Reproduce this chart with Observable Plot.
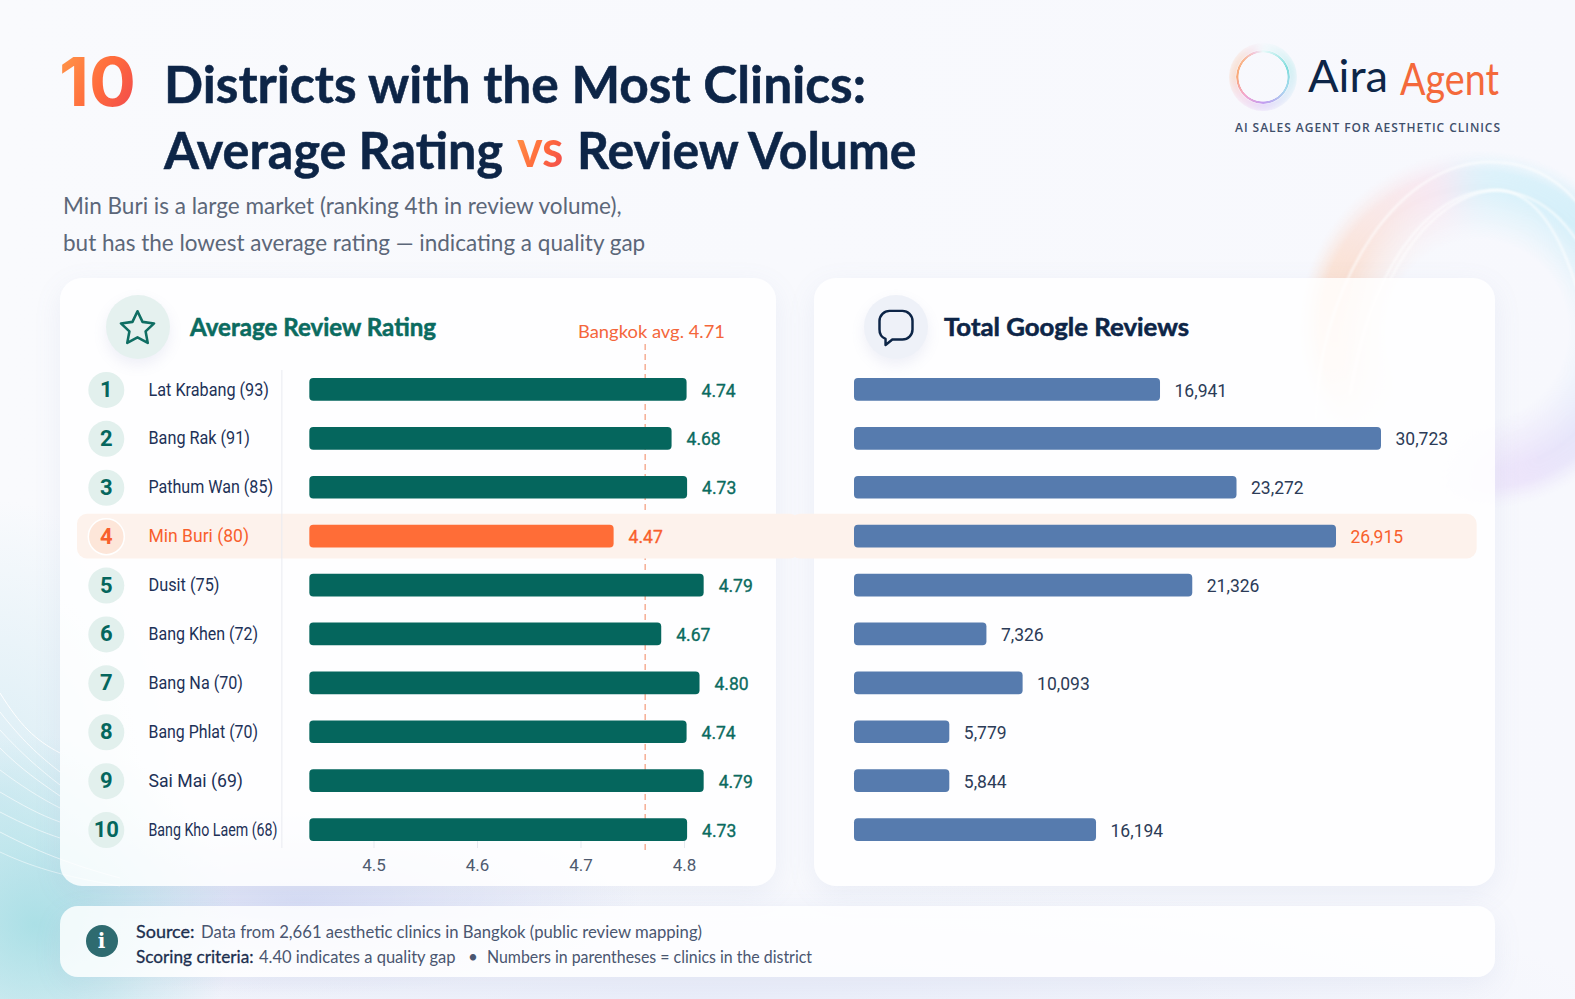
<!DOCTYPE html>
<html lang="en">
<head>
<meta charset="utf-8">
<title>10 Districts with the Most Clinics</title>
<script src="https://cdn.jsdelivr.net/npm/d3@7"></script>
<script src="https://cdn.jsdelivr.net/npm/@observablehq/plot@0.6"></script>
<style>
  html, body { margin: 0; padding: 0; }
  body { width: 1575px; height: 999px; overflow: hidden; position: relative; background: #f9fafd; font-family: Lato, "Noto Sans", sans-serif; }
  #bg { position: absolute; inset: 0; overflow: hidden;
    background:
      radial-gradient(200px 190px at 35px 925px, rgba(165,222,228,.9), rgba(165,222,228,0) 100%),
      radial-gradient(340px 95px at 300px 900px, rgba(205,212,243,.7), rgba(205,212,243,0) 100%),
      radial-gradient(190px 300px at 0px 800px, rgba(200,230,240,.65), rgba(200,230,240,0) 100%),
      radial-gradient(900px 120px at 700px 1000px, rgba(226,231,248,.6), rgba(226,231,248,0) 100%),
      linear-gradient(90deg, #f9fafd, #f7f8fd);
  }
  .ring { position: absolute; left: 1298px; top: 150px; width: 360px; height: 360px; border-radius: 50%;
    background: conic-gradient(from 0deg, #c2ecf8 0deg, #b0e6f6 50deg, #c2e8f7 100deg, #d6d4f8 135deg, #e2cff8 165deg, rgba(255,255,255,0) 195deg, rgba(255,255,255,0) 230deg, #ffd6bd 255deg, #ffc8a2 285deg, #fbd8d2 320deg, #f7d8ea 345deg, #c2ecf8 360deg);
    -webkit-mask: radial-gradient(closest-side, transparent 50%, #000 78%, #000 88%, transparent 100%);
    mask: radial-gradient(closest-side, transparent 50%, #000 78%, #000 88%, transparent 100%);
    filter: blur(14px); opacity: .5; }
  #bgsvg .soft { filter: blur(.8px); }
  .card { position: absolute; background: rgba(255,255,255,.82); border-radius: 22px; box-shadow: 0 8px 28px rgba(120,135,190,.10); }
  .t { position: absolute; white-space: pre; transform-origin: left center; line-height: 1; }
  .grad { background: linear-gradient(120deg, #ff9a4a 0%, #ff6a3c 55%, #ef4750 100%); -webkit-background-clip: text; background-clip: text; color: transparent; }
  .chart { position: absolute; top: 278px; height: 608px; }
  .chart svg { display: block; }
  .icon { position: absolute; border-radius: 50%; display: flex; align-items: center; justify-content: center; box-shadow: 0 6px 14px rgba(120,135,190,.12); }
  .strong { -webkit-text-stroke: .55px currentColor; }
  .semi { -webkit-text-stroke: .3px currentColor; }
  .logoring { position: absolute; left: 1236px; top: 50px; width: 54px; height: 54px; border-radius: 50%;
    background: conic-gradient(from 0deg, #eafafa 0deg, #7fdcdc 70deg, #a9d8ee 120deg, #c39cf0 180deg, #f2a8d0 225deg, #f9a877 270deg, #f9b68e 310deg, #f3c8dc 340deg, #eafafa 360deg);
    -webkit-mask: radial-gradient(closest-side, transparent 90%, #000 92%, #000 98%, transparent 100%);
    mask: radial-gradient(closest-side, transparent 90%, #000 92%, #000 98%, transparent 100%); }
  .logoglow { position: absolute; left: 1229px; top: 43px; width: 68px; height: 68px; border-radius: 50%; filter: blur(3px); opacity: .3;
    background: conic-gradient(from 0deg, #eafafa 0deg, #7fdcdc 70deg, #a9d8ee 120deg, #c39cf0 180deg, #f2a8d0 225deg, #f9a877 270deg, #f9b68e 310deg, #f3c8dc 340deg, #eafafa 360deg);
    -webkit-mask: radial-gradient(closest-side, transparent 74%, #000 82%, #000 100%);
    mask: radial-gradient(closest-side, transparent 74%, #000 82%, #000 100%); }
</style>
</head>
<body>
<div id="bg">
  <div class="ring"></div>
  <svg id="bgsvg" width="1575" height="999" style="position:absolute;left:0;top:0"></svg>
</div>

<div class="t grad" data-w="77" style="left:58.7px;top:81px;font-size:68px;font-weight:700;font-family:Inter">10</div>
<div class="t strong" data-w="702" style="left:164px;top:82.5px;font-size:52px;font-weight:700;color:#0d2547">Districts with the Most Clinics:</div>
<div class="t strong" data-w="339" style="left:164px;top:149px;font-size:52px;font-weight:700;color:#0d2547">Average Rating</div>
<div class="t grad" data-w="46.5" style="left:517px;top:149px;font-size:52px;font-weight:700;padding-bottom:4px">vs</div>
<div class="t strong" data-w="339.5" style="left:576.5px;top:149px;font-size:52px;font-weight:700;color:#0d2547">Review Volume</div>
<div class="t" data-w="558.6" style="left:62.8px;top:205px;font-size:24px;color:#5c6779">Min Buri is a large market (ranking 4th in review volume),</div>
<div class="t" data-w="582.2" style="left:62.8px;top:242px;font-size:24px;color:#5c6779">but has the lowest average rating — indicating a quality gap</div>

<div class="logoglow"></div><div class="logoring"></div>
<div class="t" data-w="80" style="left:1308px;top:75px;font-size:44px;font-weight:400;color:#0d2547">Aira</div>
<div class="t" data-w="99" style="left:1400px;top:78px;font-size:44px;font-weight:400;color:#f4693b">Agent</div>
<div class="t" data-w="266" style="left:1235px;top:127.5px;font-size:12px;font-weight:600;letter-spacing:.08em;color:#3f4f6b;font-family:'Open Sans'">AI SALES AGENT FOR AESTHETIC CLINICS</div>

<div class="card" style="left:60px;top:278px;width:716px;height:608px"></div>
<div class="card" style="left:814px;top:278px;width:681px;height:608px"></div>
<div class="card" style="left:60px;top:906px;width:1435px;height:71px;border-radius:18px"></div>

<div class="icon" style="left:105.5px;top:295px;width:64px;height:64px;background:#e5f1ef">
  <svg width="41" height="41" viewBox="0 0 24 24" fill="none" stroke="#0f6e63" stroke-width="1.5" stroke-linejoin="round"><path d="M12 2.5l2.95 6.2 6.75.9-4.95 4.7 1.25 6.7L12 17.8l-6 3.2 1.25-6.7L2.3 9.6l6.75-.9z"/></svg>
</div>
<div class="t strong" style="left:190px;top:325.5px;font-size:25px;font-weight:700;color:#0b6b60" data-w="246">Average Review Rating</div>
<div class="t" data-w="147" style="left:577.5px;top:330.5px;font-size:18px;font-weight:400;color:#f4663b">Bangkok avg. 4.71</div>

<div class="icon" style="left:863.5px;top:295px;width:64px;height:64px;background:#eef1f8">
  <svg width="44" height="44" viewBox="0 0 24 24" fill="none" stroke="#0d2547" stroke-width="1.35" stroke-linejoin="round"><path d="M8.5 3.2h7A5.5 5.5 0 0 1 21 8.7v4.6a5.5 5.5 0 0 1-5.5 5.5H10l-3.7 3v-3.3A5.5 5.5 0 0 1 3 13.3V8.7a5.5 5.5 0 0 1 5.5-5.5z"/></svg>
</div>
<div class="t strong" data-w="245" style="left:944px;top:326px;font-size:25px;font-weight:700;color:#0d2547">Total Google Reviews</div>

<div class="icon" style="left:85.5px;top:925px;width:32px;height:32px;background:#2e6b70;box-shadow:none;color:#fff;font:700 20px 'DejaVu Serif'">i</div>
<div class="t semi" data-w="58.5" style="left:135.5px;top:930.5px;font-size:17px;color:#1c2f4f">Source:</div>
<div class="t" data-w="501" style="left:200.5px;top:930.5px;font-size:17px;color:#4a5670">Data from 2,661 aesthetic clinics in Bangkok (public review mapping)</div>
<div class="t semi" data-w="117.5" style="left:135.5px;top:956px;font-size:17px;color:#1c2f4f">Scoring criteria:</div>
<div class="t" data-w="196.5" style="left:258.5px;top:956px;font-size:17px;color:#4a5670">4.40 indicates a quality gap</div>
<div class="t" style="left:468px;top:956px;font-size:17px;color:#4a5670;transform:translateY(-50%)">•</div>
<div class="t" data-w="325" style="left:487px;top:956px;font-size:17px;color:#4a5670">Numbers in parentheses = clinics in the district</div>

<div id="left" class="chart" style="left:60px;width:740px"></div>
<div id="right" class="chart" style="left:780px;width:715px"></div>

<script>
// ---------- chart values ----------
const districts = ["Lat Krabang","Bang Rak","Pathum Wan","Min Buri","Dusit","Bang Khen","Bang Na","Bang Phlat","Sai Mai","Bang Kho Laem"];
const clinics = [93,91,85,80,75,72,70,70,69,68];
const ratingLabels = ["4.74","4.68","4.73","4.47","4.79","4.67","4.80","4.74","4.79","4.73"];
// where each bar's end falls on the picture's own drawn axis
const ratingBarOnAxis = [4.8025,4.788,4.803,4.732,4.819,4.778,4.815,4.8025,4.819,4.803];
const reviewLabels = ["16,941","30,723","23,272","26,915","21,326","7,326","10,093","5,779","5,844","16,194"];
// the length of each bar as drawn in the picture, in review units
const reviewBarLength = [17840,30723,22300,28100,19720,7720,9830,5556,5556,14110];
const ratingTicks = [4.5,4.6,4.7,4.8];
const ratingBase = 4.438;
const avgOnAxis = 4.762;
const highlightDistrict = "Min Buri";

const teal = "#05665d", orange = "#ff6d37", orangeText = "#f8602c", blue = "#567bae", navy = "#1d3157", peach = "#fdf2ec";

const rows = districts.map((d, i) => ({
  district: d, rank: i + 1, clinics: clinics[i],
  label: `${d} (${clinics[i]})`,
  ratingText: ratingLabels[i], ratingEnd: ratingBarOnAxis[i],
  reviewText: reviewLabels[i], reviewLen: reviewBarLength[i],
  hi: d === highlightDistrict
}));
const hiRows = rows.filter(r => r.hi);

const yScale = {domain: districts, range: [87, 576], paddingInner: .535, paddingOuter: .2675, round: false};
const svgStyle = {background: "transparent", fontFamily: "Roboto, sans-serif", overflow: "visible", maxWidth: "none"};
const ratingColor = d => d.hi ? orangeText : "#0b6b60";

const left = Plot.plot({
  width: 740, height: 608,
  marginLeft: 0, marginRight: 0, marginTop: 92, marginBottom: 47,
  style: svgStyle,
  x: {domain: [4.5, 4.8], range: [313.5, 624], axis: null},
  y: {...yScale, axis: null},
  color: {type: "identity"},
  marks: [
    Plot.ruleX([avgOnAxis], {stroke: "#f4a183", strokeWidth: 1.3, strokeDasharray: "6,4", insetTop: -26, insetBottom: -13}),
    Plot.barX(hiRows, {y: "district", x1: () => 4.2135, x2: () => 4.912, fill: peach, rx: 10, insetTop: -11, insetBottom: -11}),
    Plot.ruleX([4.411], {stroke: "#e9ebf1", strokeWidth: 1, insetBottom: -9}),
    Plot.axisX(ratingTicks, {anchor: "bottom", label: null, tickSize: 9, tickPadding: 10, tickFormat: d => d.toFixed(1), fontSize: 17, stroke: "#e6e9ef", fill: "#4e5a6e", fontWeight: 400}),
    Plot.barX(rows, {y: "district", x1: () => ratingBase, x2: "ratingEnd", fill: d => d.hi ? orange : teal, rx: 4}),
    Plot.dot(rows, {y: "district", frameAnchor: "left", dx: 45.8, r: 18, fill: d => d.hi ? "#fde6d9" : "#e2f0ed", stroke: d => d.hi ? "#ffffff" : "none", strokeWidth: 1.5}),
    Plot.text(rows, {y: "district", frameAnchor: "left", dx: 45.8, text: d => String(d.rank), textAnchor: "middle", fontSize: 22, fontWeight: 700, fill: d => d.hi ? orangeText : teal}),
    Plot.text(rows, {y: "district", frameAnchor: "left", dx: 88, text: "label", textAnchor: "start", fontSize: 17.5, fill: d => d.hi ? orangeText : navy}),
    Plot.text(rows, {y: "district", x: "ratingEnd", dx: 14.5, dy: 1, text: "ratingText", textAnchor: "start", fontSize: 17.5, fontWeight: 400, fill: ratingColor, stroke: ratingColor, strokeWidth: .35})
  ]
});
document.getElementById("left").appendChild(left);

const right = Plot.plot({
  width: 715, height: 608,
  marginLeft: 0, marginRight: 0, marginTop: 92, marginBottom: 47,
  style: svgStyle,
  x: {domain: [0, 30723], range: [74, 601], axis: null},
  y: {...yScale, axis: null},
  color: {type: "identity"},
  marks: [
    Plot.barX(hiRows, {y: "district", x1: () => -3731, x2: () => 36300, fill: peach, rx: 10, insetTop: -11, insetBottom: -11}),
    Plot.barX(rows, {y: "district", x1: () => 0, x2: "reviewLen", fill: blue, rx: 4}),
    Plot.text(rows, {y: "district", x: "reviewLen", dx: 14, dy: 1, text: "reviewText", textAnchor: "start", fontSize: 17.5, fontWeight: d => d.hi ? 500 : 400, fill: d => d.hi ? orangeText : "#2c3b57"})
  ]
});
document.getElementById("right").appendChild(right);

// ---------- fit text to the reference's drawn widths ----------
document.querySelectorAll(".t[data-w]").forEach(el => {
  const k = +el.dataset.w / el.getBoundingClientRect().width;
  el.style.transform = `translateY(-50%) scaleX(${k})`;
});
const nameWidths = new Map([["Lat Krabang",120.5],["Bang Rak",101.5],["Pathum Wan",124.5],["Min Buri",100.5],["Dusit",71],["Bang Khen",109.5],["Bang Na",94.5],["Bang Phlat",109.5],["Sai Mai",94.5],["Bang Kho Laem",129]]);
left.querySelectorAll("text").forEach(el => {
  const name = el.textContent.replace(/ \(\d+\)$/, "");
  if (nameWidths.has(name) && el.textContent !== name) {
    el.setAttribute("textLength", nameWidths.get(name));
    el.setAttribute("lengthAdjust", "spacingAndGlyphs");
  }
});

// ---------- background decoration ----------
const ns = "http://www.w3.org/2000/svg";
const bg = document.getElementById("bgsvg");
const arc = (d, stroke, w, op, cls) => { const p = document.createElementNS(ns, "path"); p.setAttribute("d", d); p.setAttribute("fill", "none"); p.setAttribute("stroke", stroke); p.setAttribute("stroke-width", w); p.setAttribute("opacity", op); if (cls) p.setAttribute("class", cls); bg.appendChild(p); };
[["M0 693C20 725 35 740 60 753", 1],["M0 712C22 740 38 755 60 772", .8],["M0 730C20 752 38 768 60 785", .7],["M0 748C22 770 40 782 60 796", .7],["M0 770C20 785 40 798 60 808", .6],["M0 792C22 805 40 815 60 822", .6],["M0 812C25 825 42 832 60 838", .6],["M0 832C25 845 60 862 120 878", .6],["M0 852C30 866 60 876 120 886", .5]].forEach(([d, o]) => arc(d, "#ffffff", 1, o));
["M1316 420C1316 300 1390 162 1490 162C1545 162 1580 195 1600 240",
 "M1350 395C1370 270 1425 195 1490 190C1540 190 1570 220 1600 280",
 "M1390 280C1425 210 1470 190 1500 190C1550 195 1575 270 1590 340"].forEach(d => arc(d, "#ffffff", 2, .75, "soft"));
</script>
</body>
</html>
